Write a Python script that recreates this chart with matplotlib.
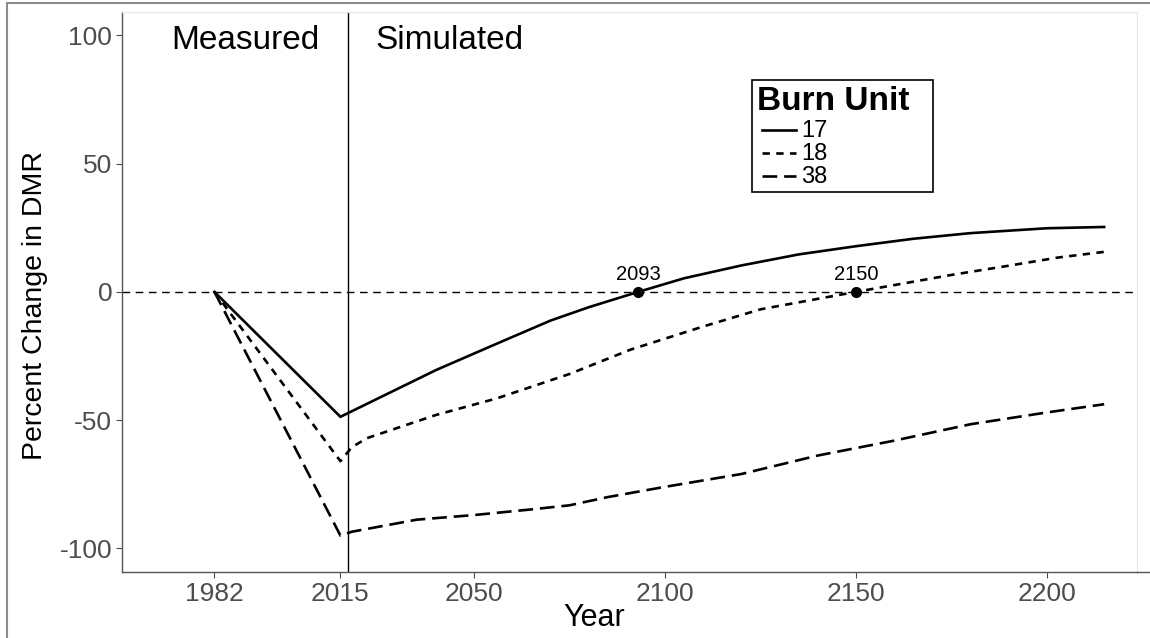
import matplotlib
matplotlib.use("Agg")
import matplotlib.pyplot as plt
from matplotlib.lines import Line2D
from matplotlib.patches import Rectangle

plt.rcParams["font.family"] = ["Liberation Sans", "DejaVu Sans"]
plt.rcParams["axes.unicode_minus"] = False

# ---- data: percent change in DMR by burn unit ----
years_17 = [1982, 2015, 2040, 2055, 2070, 2080, 2093, 2105, 2120, 2135, 2150, 2165, 2180, 2200, 2215]
dmr_17 = [0, -48.7, -30.5, -20.8, -11.2, -6.0, 0, 5.3, 10.3, 14.6, 17.8, 20.7, 22.9, 24.8, 25.3]

years_18 = [1982, 2015, 2018, 2022, 2040, 2056, 2075, 2091, 2110, 2125, 2150, 2175, 2190, 2203, 2215]
dmr_18 = [0, -66.0, -60.5, -57.0, -48.0, -41.5, -32.0, -22.5, -13.5, -6.8, 0, 6.6, 10.2, 13.4, 15.6]

years_38 = [1982, 2015, 2018, 2035, 2050, 2065, 2075, 2085, 2100, 2120, 2140, 2160, 2180, 2200, 2215]
dmr_38 = [0, -95.0, -93.5, -88.8, -87.0, -84.8, -83.2, -80.0, -76.0, -71.0, -63.8, -58.0, -51.6, -47.0, -43.8]

units = ["17", "18", "38"]
crossing_years = [2093, 2150]
xticks = [1982, 2015, 2050, 2100, 2150, 2200]
yticks = [-100, -50, 0, 50, 100]
split_year = 2017

W, H = 1150, 638


def px(x, y):
    # pixel position from the top-left corner -> figure fraction
    return x / W, 1 - y / H


fig = plt.figure(figsize=(W / 100, H / 100), dpi=100)
ax = fig.add_axes([122 / W, 1 - 572 / H, (1137 - 122) / W, (572 - 12) / H])

lw = 1.9
styles = [dict(solid_joinstyle="miter"), dict(dashes=(2.8, 2.4)), dict(dashes=(5.6, 2.6))]
for xs, ys, st in zip([years_17, years_18, years_38], [dmr_17, dmr_18, dmr_38], styles):
    ax.plot(xs, ys, color="black", lw=lw, **st)

ax.axhline(0, color="black", lw=1.0, dashes=(5.5, 4))
ax.axvline(split_year, color="black", lw=1.0)

ax.plot(crossing_years, [0, 0], "o", color="black", ms=7, zorder=5)
for yr in crossing_years:
    ax.text(yr, 3, str(yr), ha="center", va="bottom", fontsize=14.5, color="black")

ax.text(1990, 98, "Measured", ha="center", va="center", fontsize=24)
ax.text(2043.5, 98, "Simulated", ha="center", va="center", fontsize=24)

ax.set_xlim(1957.8, 2223.6)
ax.set_ylim(-109.2, 109.1)
ax.set_xticks(xticks)
ax.set_yticks(yticks)
ax.tick_params(colors="#4d4d4d", labelsize=19, length=4, width=0.8, pad=3)
ax.set_xlabel("Year", fontsize=22)
ax.set_ylabel("Percent Change in DMR", fontsize=20.5)
ax.xaxis.set_label_coords((594 - 122) / (1137 - 122), -(618 - 572) / (572 - 12), transform=ax.transAxes)
ax.xaxis.label.set_va("center")
ax.yaxis.set_label_coords(-(122 - 35) / (1137 - 122), (572 - 305) / (572 - 12), transform=ax.transAxes)
ax.yaxis.label.set_va("center")

for side in ["left", "bottom"]:
    ax.spines[side].set_color("#555555")
    ax.spines[side].set_linewidth(1.0)
for side in ["top", "right"]:
    ax.spines[side].set_color("#e6e6e6")
    ax.spines[side].set_linewidth(0.8)

# x axis line runs on to the right edge of the figure
fig.add_artist(Line2D([1137 / W, 1.0], [1 - 572 / H, 1 - 572 / H], color="#555555", lw=1.0))
# outer frame
fig.add_artist(Rectangle((7 / W, -0.05), 1.1, 1 - 3 / H + 0.05, fill=False,
                         edgecolor="#8c8c8c", lw=1.5))

# legend box, drawn by hand
x0, y0 = px(752, 192)
x1, y1 = px(933, 80)
fig.add_artist(Rectangle((x0, y0), x1 - x0, y1 - y0, fill=True, facecolor="white",
                         edgecolor="black", lw=1.2, zorder=10))
fig.text(*px(757, 101), "Burn Unit", fontsize=24, fontweight="bold", va="center", ha="left", zorder=11)
for i, (lab, st) in enumerate(zip(units, styles)):
    yy = 130 + i * 23
    fig.add_artist(Line2D([px(762, yy)[0], px(796, yy)[0]], [px(0, yy)[1]] * 2,
                          color="black", lw=lw, zorder=11, **st))
    fig.text(*px(801, yy + 1), lab, fontsize=17, va="center", ha="left", zorder=11)

fig.savefig("out.png", dpi=100)
